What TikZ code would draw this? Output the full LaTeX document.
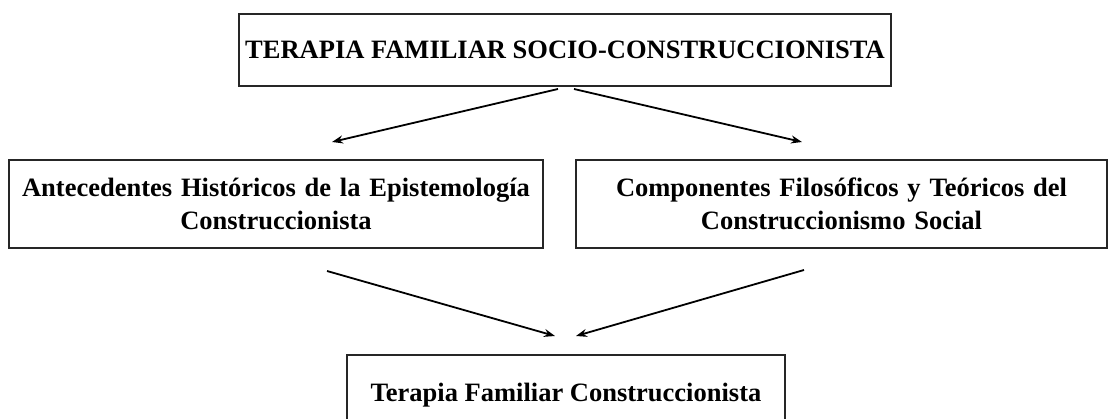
\documentclass[tikz,border=0pt]{standalone}
\usepackage{fontspec}
\setmainfont{Liberation Serif}
\usetikzlibrary{arrows.meta}
\begin{document}
\begin{tikzpicture}[x=1pt,y=-1pt,
  box/.style={draw=black!85, line width=1.6pt, rectangle, inner sep=0pt, align=center,
    font=\bfseries\fontsize{26.5}{33}\selectfont},
  arr/.style={line width=1.8pt, -{Stealth[length=11pt,width=8pt]}}]
\useasboundingbox (0,0) rectangle (1109,419);
\node[box, minimum width=652pt, minimum height=72pt] (top) at (565,50) {TERAPIA FAMILIAR SOCIO-CONSTRUCCIONISTA};
\node[box, minimum width=534pt, minimum height=88pt, text width=534pt] (left) at (276,204) {Antecedentes Históricos de la Epistemología\\Construccionista};
\node[box, minimum width=531pt, minimum height=88pt, text width=531pt] (right) at (841.5,204) {Componentes Filosóficos y Teóricos del\\Construccionismo Social};
\node[box, minimum width=438pt, minimum height=80pt] (bottom) at (566,395) {Terapia Familiar Construccionista};
\coordinate (tl) at (558,89);
\coordinate (tr) at (574,89);
\coordinate (ltip) at (332,142);
\coordinate (rtip) at (802,142);
\coordinate (bls) at (327,271);
\coordinate (brs) at (804,270);
\coordinate (blt) at (555,336);
\coordinate (brt) at (576,336);
\draw[arr] (tl) -- (ltip);
\draw[arr] (tr) -- (rtip);
\draw[arr] (bls) -- (blt);
\draw[arr] (brs) -- (brt);
\end{tikzpicture}
\end{document}
